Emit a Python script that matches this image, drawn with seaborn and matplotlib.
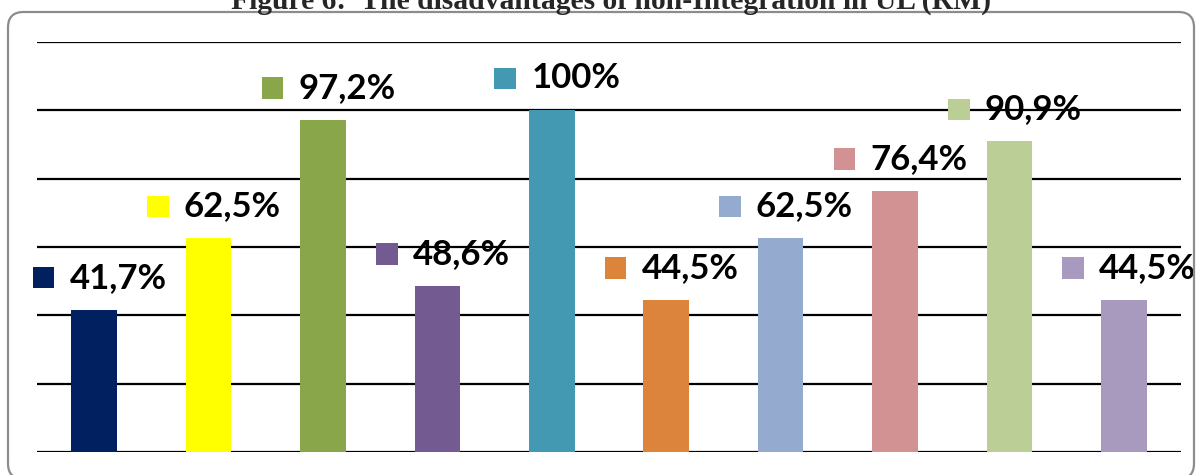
import pandas as pd
import matplotlib.pyplot as plt
import seaborn as sns
from matplotlib.patches import FancyBboxPatch, Rectangle
from matplotlib.offsetbox import DrawingArea, TextArea, HPacker, AnnotationBbox

# Datos del gráfico
categorias = ["D1", "D2", "D3", "D4", "D5", "D6", "D7", "D8", "D9", "D10"]
valores = [41.7, 62.5, 97.2, 48.6, 100, 44.5, 62.5, 76.4, 90.9, 44.5]
etiquetas = ["41,7%", "62,5%", "97,2%", "48,6%", "100%", "44,5%", "62,5%", "76,4%", "90,9%", "44,5%"]
colores = ["#002060", "#FFFF00", "#8AA64A", "#735A90", "#4299B1",
           "#DD843C", "#95AACF", "#D29293", "#BBCE95", "#A899BF"]
titulo = "Figure 6:  The disadvantages of non-Integration in UL (RM)"

sns.set_theme(style="white")
plt.rcParams["font.family"] = ["Lato", "DejaVu Sans"]

df = pd.DataFrame({"cat": categorias, "val": valores})

fig = plt.figure(figsize=(12, 4.75), dpi=100)
ax = fig.add_axes([37 / 1200, 23 / 475, 1144 / 1200, 410 / 475])

sns.barplot(data=df, x="cat", y="val", hue="cat", palette=colores,
            width=0.4, saturation=1, legend=False, linewidth=0, ax=ax)

ax.set_ylim(0, 120)
ax.set_xlim(-0.5, len(categorias) - 0.5)
ax.set_yticks(range(0, 121, 20))
ax.set_axisbelow(True)
ax.yaxis.grid(True, color="black", linewidth=1.6)
ax.xaxis.grid(False)
for s in ax.spines.values():
    s.set_visible(False)
ax.set_xticks([])
ax.set_yticklabels([])
ax.tick_params(left=False, bottom=False)
ax.set_xlabel("")
ax.set_ylabel("")

# Etiquetas con el cuadro de color
for i, (v, lab, c) in enumerate(zip(valores, etiquetas, colores)):
    da = DrawingArea(15.5, 15.5, 0, 0)
    da.add_artist(Rectangle((0, 0), 15.5, 15.5, facecolor=c, edgecolor="none"))
    ta = TextArea(lab, textprops=dict(fontsize=25, fontweight="bold", color="black"))
    box = HPacker(children=[da, ta], align="center", pad=0, sep=11)
    ab = AnnotationBbox(box, (i, v), xybox=(4, 23), boxcoords="offset points",
                        frameon=False, box_alignment=(0.5, 0.5), annotation_clip=False)
    ax.add_artist(ab)

# Marco redondeado (el borde inferior queda fuera de la imagen)
marco = FancyBboxPatch((8 / 1200, -4 / 475), 1186 / 1200, (475 - 12 + 4) / 475,
                       boxstyle="round,pad=0,rounding_size=0.013",
                       transform=fig.transFigure, facecolor="none",
                       edgecolor="#8c8c8c", linewidth=1.6, mutation_aspect=2.5)
fig.patches.append(marco)

fig.text(0.509, 1 - 9 / 475, titulo, ha="center", va="baseline",
         fontsize=21.3, fontweight="bold", family=["Liberation Serif", "DejaVu Serif"])

fig.savefig("out.png", dpi=100)
plt.close()
